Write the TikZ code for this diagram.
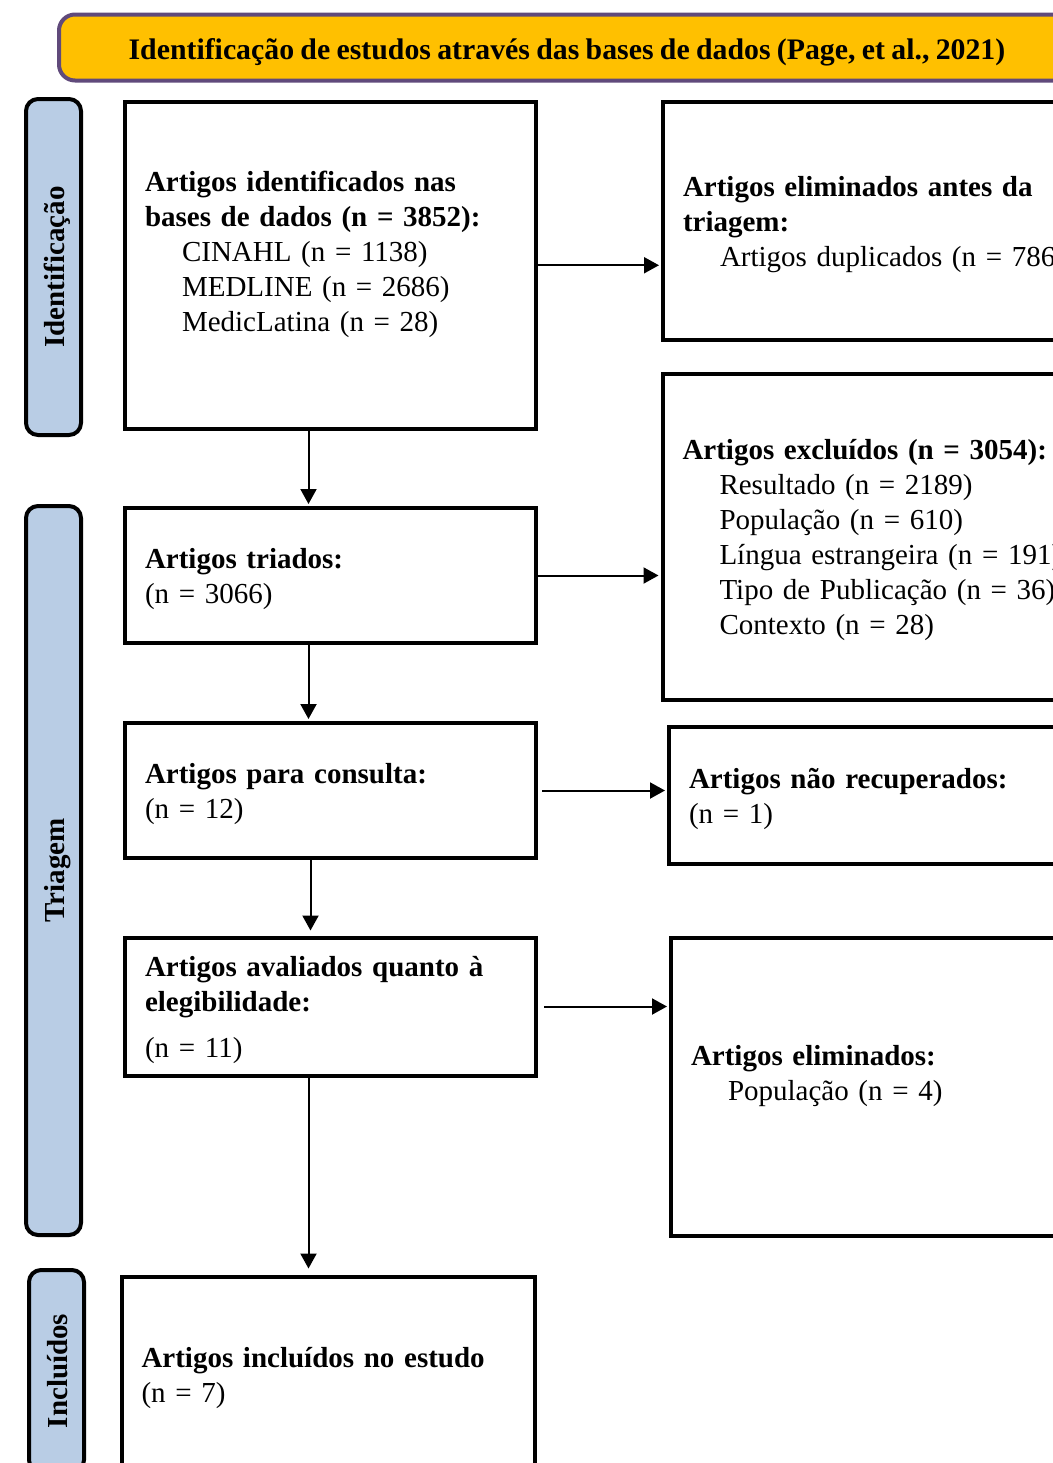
\documentclass[tikz,border=0pt]{standalone}
\usepackage{fontspec}
\setmainfont{Liberation Serif}[WordSpace=0.85]
\usetikzlibrary{arrows.meta}
\definecolor{titulo}{RGB}{255,192,0}
\definecolor{roxo}{RGB}{96,74,123}
\definecolor{azulfase}{RGB}{185,205,229}

\begin{document}
\begin{tikzpicture}[
        x=0.5pt, y=-0.5pt,
        every node/.style={font=\fontsize{14.5}{17.5}\selectfont},
        caixa/.style={draw, line width=2pt, align=left, inner xsep=10pt, inner ysep=0pt, text height=14pt},
        esquerda/.style={caixa, text width=185.5pt},
        direita/.style={caixa, text width=202pt},
        fase/.style={
            draw, line width=2pt, fill=azulfase, rounded corners=6pt,
            rotate=90, minimum height=27.5pt, inner sep=0pt,
            text height=14pt, text depth=3pt,
            font=\fontsize{14.5}{17.5}\selectfont\bfseries
        },
        seta/.style={-{Triangle[length=7.5pt,width=8pt]}, line width=1pt, shorten >=1pt}
    ]

        \clip (0,0) rectangle (1053,1463);

        \node[draw=roxo, line width=2pt, fill=titulo, rounded corners=8pt,
            minimum width=508pt, minimum height=33pt, text height=15.5pt,
            font=\fontsize{14.9}{17.5}\selectfont\bfseries] (titulo) at (567,47.5)
            {Identificação de estudos através das bases de dados (Page, et al., 2021)};

        \node[fase, minimum width=168pt] (identificacao) at (53.5,267) {Identificação};
        \node[fase, minimum width=364.5pt] (triagem) at (53.5,870.5) {Triagem};
        \node[fase, minimum width=101pt] (incluidos) at (56.5,1371) {Incluídos};

        \node[esquerda, minimum height=163.25pt] (identificados) at (330.5,265.25)
            {\textbf{Artigos identificados nas}\\
             \textbf{bases de dados (n = 3852):}\\
             \hspace*{18.5pt}CINAHL (n = 1138)\\
             \hspace*{18.5pt}MEDLINE (n = 2686)\\
             \hspace*{18.5pt}MedicLatina (n = 28)\\
             \mbox{}};
        \node[esquerda, minimum height=67.5pt] (triados) at (330.5,575.5)
            {\textbf{Artigos triados:}\\ (n = 3066)};
        \node[esquerda, minimum height=67.5pt] (consulta) at (330.5,790.5)
            {\textbf{Artigos para consulta:}\\ (n = 12)};
        \node[esquerda, minimum height=69pt] (avaliados) at (330.5,1006.5)
            {\textbf{Artigos avaliados quanto à}\\
             \textbf{elegibilidade:}\\[5.5pt]
             (n = 11)};
        \node[caixa, text width=186.75pt, minimum height=97.25pt] (incluidosestudo) at (328.25,1373.75)
            {\textbf{Artigos incluídos no estudo}\\ (n = 7)};

        \node[direita, minimum height=119pt] (eliminadosantes) at (885,221)
            {\textbf{Artigos eliminados antes da}\\
             \textbf{triagem:}\\
             \hspace*{18.5pt}Artigos duplicados (n = 786)};
        \node[direita, minimum height=163pt] (excluidos) at (884.5,536.5)
            {\textbf{Artigos excluídos (n = 3054):}\\
             \hspace*{18.5pt}Resultado (n = 2189)\\
             \hspace*{18.5pt}População (n = 610)\\
             \hspace*{18.5pt}Língua estrangeira (n = 191)\\
             \hspace*{18.5pt}Tipo de Publicação (n = 36)\\
             \hspace*{18.5pt}Contexto (n = 28)};
        \node[direita, minimum height=68.5pt] (naorecuperados) at (891,795.5)
            {\textbf{Artigos não recuperados:}\\ (n = 1)};
        \node[direita, minimum height=149pt] (eliminados) at (893,1086.5)
            {\textbf{Artigos eliminados:}\\
             \hspace*{18.5pt}População (n = 4)\\
             \mbox{}};

        \draw[seta] ([xshift=-11pt]identificados.south) -- ([xshift=-11pt]triados.north);
        \draw[seta] ([xshift=-11pt]triados.south) -- ([xshift=-11pt]consulta.north);
        \draw[seta, shorten >=2.5pt] ([xshift=-10pt]consulta.south) -- ([xshift=-10pt]avaliados.north);
        \draw[seta, shorten >=3pt] ([xshift=-11pt]avaliados.south) -- ([xshift=-11pt]avaliados.south |- incluidosestudo.north);

        \draw[seta] (identificados.east) -- (identificados.east -| eliminadosantes.west);
        \draw[seta] (triados.east) -- (triados.east -| excluidos.west);
        \draw[seta, shorten <=2pt] (consulta.east) -- (consulta.east -| naorecuperados.west);
        \draw[seta, shorten <=3pt] (avaliados.east) -- (avaliados.east -| eliminados.west);
    \end{tikzpicture}
\end{document}
